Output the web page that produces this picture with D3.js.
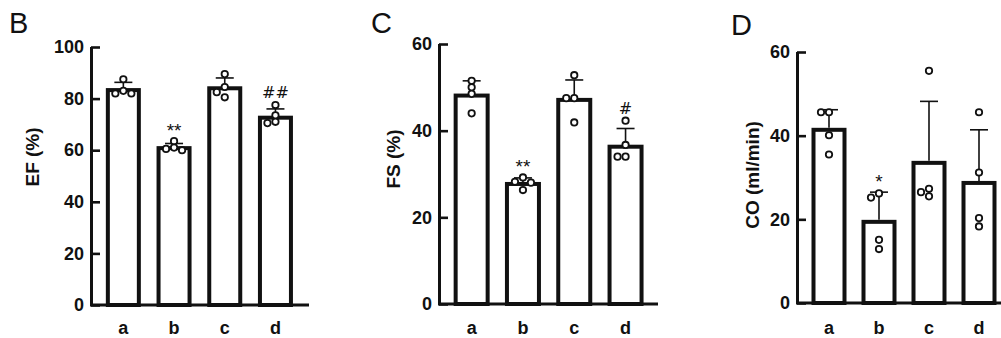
<!DOCTYPE html>
<html>
<head>
<meta charset="utf-8">
<script src="https://cdn.jsdelivr.net/npm/d3@7"></script>
<style>
  body { margin: 0; background: #fff; }
  text { font-family: Arial, "Liberation Sans", sans-serif; fill: #111; }
</style>
</head>
<body>
<div id="chart"></div>
<script>
const groups = ["a", "b", "c", "d"];

// EF (%)
const efMean = [83.3, 60.8, 84.0, 72.6];
const efSd = [3.0, 1.8, 4.0, 3.4];
const efPoints = [[87.5, 83, 82, 82], [63.5, 61, 60.5, 60], [89.5, 84.5, 82.5, 80.5], [77.5, 73.5, 71, 70.5]];
const efSig = ["", "**", "", "##"];

// FS (%)
const fsMean = [48.1, 27.7, 47.1, 36.3];
const fsSd = [3.4, 1.4, 4.6, 4.2];
const fsPoints = [[51.5, 50, 48.5, 44], [29.2, 28.2, 28, 26.3], [52.8, 47.5, 47.5, 41.9], [42.3, 36.7, 34, 34]];
const fsSig = ["", "**", "", "#"];

// CO (ml/min)
const coMean = [41.4, 19.4, 33.5, 28.7];
const coSd = [4.8, 7.1, 14.7, 12.7];
const coPoints = [[45.6, 45.6, 40.1, 35.5], [26.2, 25.2, 15.1, 12.9], [55.5, 27.3, 26.5, 25.5], [45.6, 31.2, 20.3, 18.3]];
const coSig = ["", "*", "", ""];

const yTicks60 = [0, 20, 40, 60];
const yTicks100 = [0, 20, 40, 60, 80, 100];

const svg = d3.select("#chart").append("svg")
  .attr("width", 1001)
  .attr("height", 338);

svg.append("rect").attr("width", 1001).attr("height", 338).attr("fill", "#fff");

function drawPanel(p) {
  const g = svg.append("g");

  const y = d3.scaleLinear().domain([0, p.max]).range([p.bottom, p.top]);
  const x = d3.scaleBand()
    .domain(groups)
    .range([p.left + 7, p.left + 7 + p.step * 4])
    .paddingInner(1 - p.barW / p.step)
    .paddingOuter((1 - p.barW / p.step) / 2);

  // panel letter
  g.append("text")
    .attr("x", p.letterX)
    .attr("y", p.letterY)
    .attr("font-size", 29)
    .text(p.letter);

  // bars
  g.selectAll(".bar")
    .data(p.mean)
    .enter()
    .append("rect")
    .attr("x", (d, i) => x(groups[i]))
    .attr("y", (d) => y(d))
    .attr("width", x.bandwidth())
    .attr("height", (d) => y(0) - y(d))
    .attr("fill", "#fff")
    .attr("stroke", "#111")
    .attr("stroke-width", 4);

  // error bars (upper only)
  p.mean.forEach((m, i) => {
    const cx = x(groups[i]) + x.bandwidth() / 2;
    g.append("line")
      .attr("x1", cx).attr("x2", cx)
      .attr("y1", y(m) - 2).attr("y2", y(m + p.sd[i]))
      .attr("stroke", "#111").attr("stroke-width", 1.6);
    g.append("line")
      .attr("x1", cx - 9).attr("x2", cx + 9)
      .attr("y1", y(m + p.sd[i])).attr("y2", y(m + p.sd[i]))
      .attr("stroke", "#111").attr("stroke-width", 1.6);
  });

  // points, spread sideways when they would overlap
  p.points.forEach((pts, i) => {
    const cx = x(groups[i]) + x.bandwidth() / 2;
    const placed = [];
    pts.slice().sort((a, b) => b - a).forEach((v) => {
      const py = y(v);
      const offsets = [0, -8, 8, -16, 16];
      let off = offsets.find((o) =>
        placed.every((q) => Math.hypot(q.dx - o, q.y - py) >= 6)
      );
      if (off === undefined) off = 0;
      placed.push({ dx: off, y: py });
    });
    g.selectAll(null)
      .data(placed)
      .enter()
      .append("circle")
      .attr("cx", (d) => cx + d.dx)
      .attr("cy", (d) => d.y)
      .attr("r", 3.2)
      .attr("fill", "#fff")
      .attr("stroke", "#111")
      .attr("stroke-width", 1.8);

    if (p.sig[i]) {
      const top = Math.max(d3.max(pts), p.mean[i] + p.sd[i]);
      const hash = p.sig[i].includes("#");
      g.append("text")
        .attr("x", cx)
        .attr("y", y(top) - (hash ? 7 : 4))
        .attr("text-anchor", "middle")
        .style("font-family", hash ? "'DejaVu Sans', sans-serif" : null)
        .attr("font-size", hash ? 16 : 19)
        .text(p.sig[i]);
    }
  });

  // y axis
  const yAxis = g.append("g")
    .attr("transform", `translate(${p.left},0)`)
    .call(d3.axisLeft(y).tickValues(p.ticks).tickSize(-9).tickPadding(7).tickSizeOuter(0));
  yAxis.select(".domain").attr("stroke", "#111").attr("stroke-width", 3)
    .attr("d", `M0.5,${y(0)}V${y(p.max)}`);
  yAxis.selectAll(".tick line").attr("stroke", "#111").attr("stroke-width", 2.6);
  yAxis.selectAll(".tick text")
    .attr("font-size", 18)
    .attr("font-weight", "bold")
    .attr("fill", "#111");

  // x axis line
  g.append("line")
    .attr("x1", p.left - 1).attr("x2", p.right)
    .attr("y1", y(0)).attr("y2", y(0))
    .attr("stroke", "#111").attr("stroke-width", 3);

  // category labels
  g.selectAll(".cat")
    .data(groups)
    .enter()
    .append("text")
    .attr("x", (d) => x(d) + x.bandwidth() / 2)
    .attr("y", 334)
    .attr("text-anchor", "middle")
    .attr("font-size", 18)
    .attr("font-weight", "bold")
    .text((d) => d);

  // y label
  g.append("text")
    .attr("transform", `translate(${p.labelX},${p.labelY}) rotate(-90)`)
    .attr("text-anchor", "middle")
    .attr("font-size", 19)
    .attr("font-weight", "bold")
    .text(p.label);
}

drawPanel({
  letter: "B", letterX: 9, letterY: 33,
  left: 91, right: 309, top: 47, bottom: 305, max: 100, ticks: yTicks100,
  step: 50.7, barW: 31,
  mean: efMean, sd: efSd, points: efPoints, sig: efSig,
  label: "EF (%)", labelX: 39, labelY: 157
});

drawPanel({
  letter: "C", letterX: 371, letterY: 33,
  left: 439, right: 658, top: 44, bottom: 304, max: 60, ticks: yTicks60,
  step: 51.3, barW: 32,
  mean: fsMean, sd: fsSd, points: fsPoints, sig: fsSig,
  label: "FS (%)", labelX: 400, labelY: 159
});

drawPanel({
  letter: "D", letterX: 731, letterY: 35,
  left: 797, right: 1001, top: 52, bottom: 303, max: 60, ticks: yTicks60,
  step: 50, barW: 31,
  mean: coMean, sd: coSd, points: coPoints, sig: coSig,
  label: "CO (ml/min)", labelX: 759, labelY: 175
});
</script>
</body>
</html>
